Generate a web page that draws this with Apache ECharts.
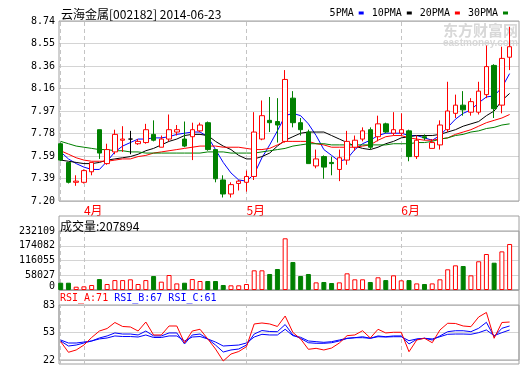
<!DOCTYPE html>
<html><head><meta charset="utf-8">
<script src="https://cdn.jsdelivr.net/npm/echarts@6/dist/echarts.min.js"></script>
<style>html,body{margin:0;padding:0;background:#fff}#c{width:520px;height:365px}</style>
</head><body><div id="c"></div>
<script>
const dates = ['2014-03-27','2014-03-28','2014-03-31',
'2014-04-01','2014-04-02','2014-04-03','2014-04-04','2014-04-08','2014-04-09','2014-04-10','2014-04-11',
'2014-04-14','2014-04-15','2014-04-16','2014-04-17','2014-04-18','2014-04-21','2014-04-22','2014-04-23',
'2014-04-24','2014-04-25','2014-04-28','2014-04-29','2014-04-30',
'2014-05-05','2014-05-06','2014-05-07','2014-05-08','2014-05-09','2014-05-12','2014-05-13','2014-05-14',
'2014-05-15','2014-05-16','2014-05-19','2014-05-20','2014-05-21','2014-05-22','2014-05-23','2014-05-26',
'2014-05-27','2014-05-28','2014-05-29','2014-05-30',
'2014-06-03','2014-06-04','2014-06-05','2014-06-06','2014-06-09','2014-06-10','2014-06-11','2014-06-12',
'2014-06-13','2014-06-16','2014-06-17','2014-06-18','2014-06-19','2014-06-20','2014-06-23'];
const openP = [7.69,7.53,7.36,7.36,7.45,7.81,7.52,7.62,7.72,7.73, 7.69,7.70,7.77,7.66,7.73,7.79,7.73,7.75,7.80,7.87, 7.64,7.38,7.26,7.35,7.36,7.41,7.73,7.89,7.88,7.71, 8.08,7.87,7.79,7.50,7.58,7.53,7.47,7.55,7.66,7.73, 7.81,7.75,7.86,7.78,7.78,7.80,7.58,7.75,7.65,7.68, 7.81,7.95,8.02,7.96,7.96,8.11,8.36,8.02,8.43];
const closeP = [7.55,7.36,7.37,7.46,7.53,7.61,7.64,7.77,7.73,7.73, 7.71,7.81,7.72,7.73,7.81,7.81,7.67,7.81,7.85,7.64, 7.39,7.26,7.34,7.37,7.41,7.79,7.93,7.87,7.85,8.24, 7.87,7.81,7.52,7.56,7.49,7.52,7.57,7.71,7.72,7.80, 7.66,7.86,7.79,7.81,7.81,7.58,7.72,7.74,7.70,7.85, 7.97,8.02,7.98,8.05,8.14,8.35,7.99,8.42,8.52];
const lowP = [7.54,7.35,7.33,7.35,7.42,7.56,7.51,7.60,7.62,7.60, 7.68,7.69,7.71,7.66,7.71,7.76,7.66,7.55,7.79,7.63, 7.36,7.23,7.23,7.29,7.28,7.38,7.72,7.79,7.70,7.70, 7.83,7.76,7.52,7.48,7.39,7.42,7.37,7.51,7.63,7.71, 7.64,7.71,7.78,7.76,7.76,7.54,7.56,7.72,7.65,7.64, 7.79,7.91,7.93,7.93,7.94,8.08,7.91,7.95,8.32];
const highP = [7.70,7.53,7.42,7.47,7.53,7.81,7.69,7.81,7.84,7.80, 7.73,7.86,7.89,7.76,7.94,7.85,7.88,7.87,7.87,7.88, 7.64,7.42,7.36,7.38,7.46,7.96,8.06,8.09,8.08,8.32, 8.14,7.91,7.81,7.64,7.59,7.58,7.64,7.80,7.76,7.83, 7.83,7.93,7.87,7.96,7.95,7.81,7.76,7.77,7.73,7.89, 8.22,8.11,8.14,8.08,8.22,8.53,8.37,8.52,8.69];
const volume = [28700,28700,13000,14400,19700,43000,23600,39000,39000,42000, 23600,39000,55000,32800,59000,26000,28700,43000,35400,35400, 35400,19700,18400,18400,23600,77400,77400,63000,82600,203400, 110000,55000,63000,30000,31500,27500,30000,65600,42000,42000, 31500,50000,39000,57700,38000,39000,26000,23600,26000,42000, 81400,97000,94400,57700,113000,141600,107400,152000,181000];
const ma5 = [7.62,7.56,7.52,7.49,7.47,7.47,7.54,7.62,7.67,7.70, 7.73,7.73,7.74,7.74,7.75,7.77,7.78,7.79,7.79,7.75, 7.64,7.53,7.44,7.38,7.37,7.43,7.57,7.68,7.80,7.93, 7.95,7.93,7.86,7.76,7.64,7.59,7.54,7.56,7.64,7.69, 7.72,7.76,7.78,7.78,7.78,7.76,7.76,7.74,7.72,7.76, 7.83,7.90,7.95,7.98,8.04,8.09,8.10,8.17,8.29];
const ma10 = [7.55,7.54,7.53,7.52,7.52,7.53,7.55,7.56,7.57,7.58, 7.60,7.63,7.65,7.68,7.71,7.73,7.76,7.77,7.77,7.76, 7.71,7.67,7.64,7.59,7.56,7.56,7.58,7.61,7.67,7.72, 7.75,7.78,7.79,7.79,7.79,7.76,7.73,7.70,7.67,7.65, 7.64,7.66,7.69,7.71,7.74,7.75,7.76,7.76,7.76,7.77, 7.79,7.81,7.84,7.86,7.88,7.93,7.97,8.06,8.12];
const ma20 = [7.63,7.60,7.57,7.55,7.54,7.54,7.54,7.55,7.56,7.56, 7.58,7.59,7.61,7.62,7.63,7.64,7.65,7.66,7.67,7.67, 7.67,7.66,7.66,7.66,7.65,7.64,7.64,7.65,7.68,7.71, 7.71,7.71,7.71,7.69,7.68,7.66,7.66,7.66,7.66,7.67, 7.68,7.72,7.75,7.76,7.76,7.74,7.73,7.72,7.72,7.73, 7.74,7.77,7.79,7.81,7.84,7.87,7.89,7.91,7.94];
const ma30 = [7.71,7.69,7.67,7.66,7.65,7.64,7.64,7.63,7.63,7.62, 7.62,7.61,7.61,7.61,7.61,7.61,7.61,7.61,7.61,7.62, 7.62,7.62,7.61,7.61,7.61,7.61,7.62,7.63,7.64,7.65, 7.67,7.68,7.69,7.69,7.69,7.68,7.68,7.68,7.68,7.68, 7.68,7.68,7.68,7.69,7.69,7.69,7.70,7.70,7.71,7.73, 7.74,7.76,7.77,7.79,7.80,7.82,7.83,7.85,7.86];
const rsiA = [45.1,34.1,36.5,41.6,49.4,56.1,58.7,64.9,60.8,60.3, 56.1,65.4,52.0,52.0,61.3,61.3,43.7,56.1,57.9,47.9, 37.5,25.1,32.3,34.9,39.9,63.4,64.4,63.4,60.8,71.6, 54.6,47.9,37.2,38.2,36.5,38.5,43.7,51.3,52.0,56.4, 48.9,57.9,54.1,54.8,54.8,34.7,46.8,48.6,44.0,57.2, 64.1,63.9,61.3,60.6,70.6,75.3,48.6,64.9,65.4];
const rsiB = [45.8,40.6,41.6,43.7,45.8,48.9,51.0,54.1,53.0,53.0, 52.0,56.1,51.0,51.0,54.1,54.1,42.7,52.0,53.0,47.9, 41.6,34.4,36.5,37.5,41.6,53.0,56.6,55.6,55.4,62.8, 52.0,48.4,44.0,43.4,43.4,44.0,45.8,48.4,49.2,50.2, 48.6,51.0,50.2,51.0,51.0,42.7,47.5,48.6,46.8,51.0, 55.4,56.4,56.4,55.4,58.9,65.1,50.2,58.9,61.3];
const rsiC = [46.8,43.7,43.7,44.7,45.8,47.9,48.9,51.0,50.4,50.4, 49.9,52.0,49.4,49.4,51.0,51.0,45.8,49.9,50.4,47.9, 44.7,40.6,41.1,41.6,43.7,49.9,52.7,52.0,52.0,57.9, 51.3,49.6,45.8,45.1,44.4,45.1,46.8,48.6,49.2,49.2, 48.6,50.2,49.9,50.2,50.2,46.1,47.9,48.6,47.9,50.2, 52.7,53.0,53.0,52.7,54.4,57.2,51.3,54.4,57.2];
const priceTickLabels = ['7.20','7.39','7.59','7.78','7.97','8.16','8.36','8.55','8.74'];
const volTickLabels = ['0','58027','116055','174082','232109'];
const rsiTickLabels = ['22','53','83'];
const monthTickIdx = [3, 24, 44];
const monthTickText = ['4月', '5月', '6月'];
const monthLineIdx = [0, 3, 24, 44];

const MONO = "'DejaVu Sans Mono', monospace";
const CJK = "'Noto Sans CJK SC', sans-serif";
const FRAME = '#a0a0a0', GRIDC = '#d4d4d4', DASH = '#c4c4c4';
const RED = '#ff0000', GREEN = '#008000', BLUE = '#0000ff';
const PL = 59, PW = 460, DL = 56.83, DW = 456.66;

const monthLines = {
  silent: true, symbol: ['none', 'none'], z: 1, animation: false,
  label: { show: false },
  lineStyle: { color: DASH, type: [4, 3], width: 1 },
  emphasis: { disabled: true },
  data: monthLineIdx.map(i => ({ xAxis: dates[i] }))
};
const hiddenVal = g => ({ gridIndex: g, type: 'value', show: false });
const labelStyle = { fontFamily: MONO, fontSize: 10, color: '#000', margin: 4 };

const maLine = (name, data, color) => ({
  name, type: 'line', xAxisIndex: 1, yAxisIndex: 1, data, color,
  symbol: 'none', lineStyle: { width: 1, color }, z: 3, silent: true
});
const rsiLine = (name, data, color, extra) => Object.assign({
  name, type: 'line', xAxisIndex: 7, yAxisIndex: 7, data, color,
  symbol: 'none', lineStyle: { width: 1, color }, z: 3, silent: true
}, extra || {});

const option = {
  animation: false,
  backgroundColor: '#fff',
  title: [
    { text: '云海金属[002182] 2014-06-23', left: 61, top: 8, padding: 0,
      textStyle: { fontFamily: CJK, fontSize: 12, fontWeight: 'normal', color: '#000' } },
    { text: '成交量:207894', left: 60, top: 220, padding: 0,
      textStyle: { fontFamily: CJK, fontSize: 12, fontWeight: 'normal', color: '#000' } },
    { text: '{a|RSI_A:71} {b|RSI_B:67} {c|RSI_C:61}', left: 60, top: 293, padding: 0,
      textStyle: { fontFamily: MONO, fontSize: 10, fontWeight: 'normal',
        rich: { a: { color: RED, fontFamily: MONO, fontSize: 10 },
                b: { color: BLUE, fontFamily: MONO, fontSize: 10 },
                c: { color: BLUE, fontFamily: MONO, fontSize: 10 } } } }
  ],
  legend: {
    right: 12, top: 8, padding: 0, align: 'right', icon: 'rect', itemWidth: 5, itemHeight: 3,
    itemGap: 8, selectedMode: false,
    textStyle: { fontFamily: MONO, fontSize: 10, color: '#000' },
    data: ['5PMA', '10PMA', '20PMA', '30PMA']
  },
  graphic: [
    { type: 'text', left: 443, top: 23, silent: true, z: 0,
      style: { text: '东方财富网', font: 'bold 15px "Noto Sans CJK SC"', fill: '#d8d8d8' } },
    { type: 'text', left: 443, top: 38, silent: true, z: 0,
      style: { text: 'eastmoney.com', font: 'bold 10px "Liberation Sans"', fill: '#d8d8d8' } }
  ],
  grid: [
    { left: PL, top: 21, width: PW, height: 180, show: true, borderColor: FRAME, z: 1 },
    { left: DL, top: 21, width: DW, height: 180 },
    { left: PL, top: 216, width: PW, height: 74, show: true, borderColor: FRAME, z: 1 },
    { left: PL, top: 231, width: PW, height: 59, show: true, borderColor: FRAME, z: 1 },
    { left: DL, top: 231, width: DW, height: 59 },
    { left: PL, top: 290, width: PW, height: 74, show: true, borderColor: FRAME, z: 1 },
    { left: PL, top: 305, width: PW, height: 59, show: true, borderColor: FRAME, z: 1 },
    { left: DL, top: 305, width: DW, height: 59 }
  ],
  xAxis: [
    hiddenVal(0),
    { gridIndex: 1, type: 'category', data: dates,
      axisLine: { show: false }, axisTick: { show: false }, splitLine: { show: false },
      axisLabel: { interval: (idx) => monthTickIdx.includes(idx),
        formatter: (v, idx) => { const k = monthTickIdx.indexOf(idx); return k >= 0 ? monthTickText[k] : ''; },
        color: RED, fontFamily: CJK, fontSize: 12, align: 'left', margin: 3 } },
    hiddenVal(2), hiddenVal(3),
    { gridIndex: 4, type: 'category', data: dates, show: false },
    hiddenVal(5), hiddenVal(6),
    { gridIndex: 7, type: 'category', data: dates, show: false }
  ],
  yAxis: [
    { gridIndex: 0, type: 'value', min: 7.2, max: 8.74, interval: 0.1925,
      axisLine: { show: false }, axisTick: { show: false },
      axisLabel: Object.assign({ formatter: (v, i) => priceTickLabels[i] }, labelStyle),
      splitLine: { lineStyle: { color: GRIDC, width: 1 } } },
    { gridIndex: 1, type: 'value', min: 7.2, max: 8.74, show: false },
    hiddenVal(2),
    { gridIndex: 3, type: 'value', min: 0, max: 232109, interval: 58027.25,
      axisLine: { show: false }, axisTick: { show: false },
      axisLabel: Object.assign({
        formatter: (v, i) => i === 0 ? '{z|' + volTickLabels[i] + '}' : volTickLabels[i],
        rich: { z: { fontFamily: MONO, fontSize: 10, color: '#000', padding: [0, 0, 7, 0] } }
      }, labelStyle),
      splitLine: { lineStyle: { color: GRIDC, width: 1 } } },
    { gridIndex: 4, type: 'value', min: 0, max: 232109, show: false },
    hiddenVal(5),
    { gridIndex: 6, type: 'value', min: 22, max: 83, interval: 30.5,
      axisLine: { show: false }, axisTick: { show: false },
      axisLabel: Object.assign({ formatter: (v, i) => rsiTickLabels[i] }, labelStyle),
      splitLine: { lineStyle: { color: GRIDC, width: 1 } } },
    { gridIndex: 7, type: 'value', min: 22, max: 83, show: false }
  ],
  series: [
    maLine('5PMA', ma5, BLUE),
    maLine('10PMA', ma10, '#000000'),
    maLine('20PMA', ma20, RED),
    maLine('30PMA', ma30, GREEN),
    { name: 'K', type: 'candlestick', xAxisIndex: 1, yAxisIndex: 1, z: 4, silent: true,
      barWidth: 5,
      data: dates.map((d, i) => [openP[i], closeP[i], lowP[i], highP[i]]),
      itemStyle: { color: '#ffffff', color0: GREEN, borderColor: RED, borderColor0: GREEN,
                   borderColorDoji: '#000000', borderWidth: 1 },
      markLine: monthLines },
    { name: 'VOL', type: 'bar', xAxisIndex: 4, yAxisIndex: 4, z: 4, silent: true, barWidth: 5,
      data: volume.map((v, i) => ({ value: v,
        itemStyle: closeP[i] >= openP[i]
          ? { color: '#ffffff', borderColor: RED, borderWidth: 1 }
          : { color: GREEN, borderColor: GREEN, borderWidth: 1 } })),
      markLine: monthLines },
    rsiLine('RSI_C', rsiC, BLUE, { markLine: monthLines }),
    rsiLine('RSI_B', rsiB, BLUE),
    rsiLine('RSI_A', rsiA, RED)
  ]
};
const chart = echarts.init(document.getElementById('c'), null, { renderer: 'canvas' });
chart.setOption(option);
</script>
</body></html>
